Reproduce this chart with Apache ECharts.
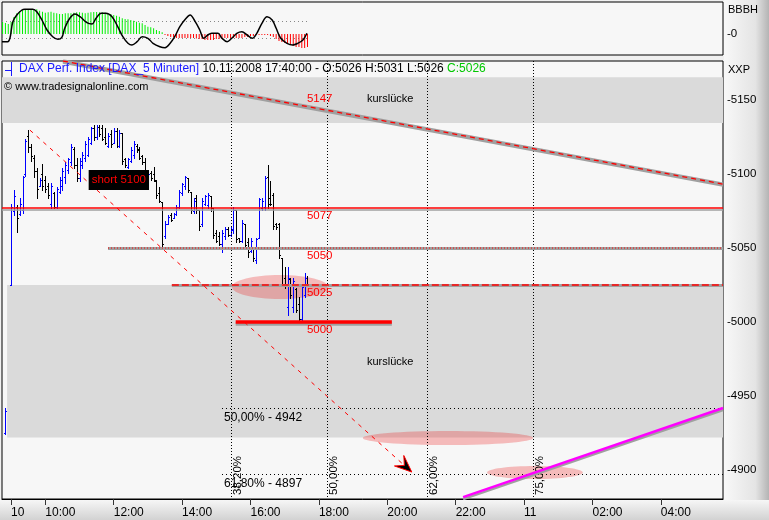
<!DOCTYPE html>
<html><head><meta charset="utf-8">
<script src="https://cdn.jsdelivr.net/npm/echarts@6/dist/echarts.min.js"></script>
<style>html,body{margin:0;padding:0;background:#f0f0f0}#c{width:769px;height:520px}</style>
</head><body><div id="c"></div>
<script>
// time axis in minutes after 10.11.2008 00:00
const X_MIN = 524, X_MAX = 1789;
const Y_MIN = 4880.4, Y_MAX = 5176.4;
const IND_MIN = -21, IND_MAX = 32;

const xTickValues = [540, 600, 720, 840, 960, 1080, 1200, 1320, 1440, 1560, 1680];
const xTickLabels = ['10', '10:00', '12:00', '14:00', '16:00', '18:00', '20:00', '22:00', '11', '02:00', '04:00'];
const yTickValues = [4900, 4950, 5000, 5050, 5100, 5150];

// 5-minute OHLC bars [open, high, low, close], first bar 09:00, last 17:40
const barStart = 540, barStep = 5;
const prevBar = [530, 4925, 4942, 4924, 4940];
const ohlc = [
[5025,5080,5025,5078],[5075,5089,5072,5085],[5078,5079,5061,5070],[5073,5084,5072,5080],[5076,5099,5074,5098],
[5100,5124,5099,5122],[5126,5130,5115,5118],[5118,5120,5109,5112],[5111,5113,5098,5102],[5102,5104,5084,5090],
[5092,5097,5092,5096],[5100,5107,5089,5092],[5096,5099,5088,5090],[5092,5094,5084,5086],[5080,5094,5077,5092],
[5087,5088,5077,5078],[5078,5091,5077,5090],[5088,5098,5087,5096],[5092,5104,5089,5102],[5098,5108,5094,5106],
[5103,5111,5101,5110],[5108,5120,5106,5118],[5117,5118,5104,5106],[5106,5111,5095,5097],[5097,5111,5095,5109],
[5106,5115,5104,5113],[5111,5122,5109,5120],[5113,5125,5112,5124],[5121,5132,5120,5131],[5131,5133,5123,5125],
[5125,5133,5124,5132],[5132,5133,5126,5127],[5131,5133,5123,5124],[5125,5131,5120,5121],[5119,5128,5118,5126],
[5127,5130,5118,5120],[5121,5131,5121,5129],[5129,5131,5118,5119],[5119,5130,5118,5128],[5128,5128,5107,5109],
[5110,5111,5105,5106],[5105,5111,5104,5110],[5109,5118,5108,5116],[5113,5122,5111,5120],[5119,5120,5115,5116],
[5117,5118,5110,5111],[5112,5113,5107,5108],[5108,5111,5097,5098],[5097,5101,5096,5100],[5101,5102,5096,5097],
[5100,5105,5095,5096],[5095,5096,5084,5086],[5087,5091,5081,5082],[5081,5081,5051,5053],[5058,5068,5057,5066],
[5066,5072,5066,5071],[5072,5074,5068,5069],[5070,5074,5070,5073],[5073,5079,5072,5078],[5078,5089,5077,5088],
[5087,5094,5086,5093],[5092,5099,5090,5098],[5097,5097,5088,5089],[5088,5088,5074,5076],[5075,5084,5074,5082],
[5084,5086,5074,5076],[5076,5076,5062,5065],[5066,5084,5065,5082],[5080,5086,5079,5085],[5079,5087,5077,5086],
[5085,5085,5075,5077],[5077,5077,5057,5059],[5060,5062,5054,5055],[5058,5061,5052,5053],[5053,5062,5047,5060],
[5058,5064,5056,5063],[5063,5064,5058,5059],[5059,5064,5058,5063],[5062,5078,5060,5076],[5076,5076,5054,5056],
[5057,5057,5054,5055],[5055,5069,5054,5067],[5066,5066,5050,5052],[5054,5057,5044,5047],[5048,5057,5047,5055],
[5051,5051,5041,5043],[5042,5057,5040,5056],[5057,5084,5057,5083],[5077,5084,5076,5082],[5078,5099,5076,5097],
[5098,5106,5077,5080],[5084,5095,5079,5080],[5086,5087,5063,5065],[5066,5067,5063,5064],[5066,5067,5043,5045],
[5043,5043,5025,5026],[5030,5037,5023,5025],[5010,5037,5005,5030],[5029,5030,5016,5018],[5010,5030,5007,5028],
[5022,5023,5007,5008],[5012,5017,5000,5002],[5002,5025,5001,5024],[5018,5033,5017,5030],[5026,5031,5026,5026]
];

// indicator panel
const histStart = 525, histStep = 5;
const histValues = [12,11,10,12,17,20.7,23,24,24.7,25,25,25,24.7,23.3,22.3,21.3,21.7,22.3,21.3,20.7,20,20,20.7,20.7,20.7,
21.3,21.7,21.7,21.3,20.7,21.3,21.7,22,22,21.7,21.7,21.3,20.7,20,19,18.3,17.3,15.7,15,14.7,14,13.3,12.3,11.3,10.7,9,7.3,6.7,
5.7,4,3,1.7,-1,-2,-3,-3,-4,-4,-4,-4,-4,-4,-4,-4.5,-5,-5,-6,-6,-6,-6,-5,-5,-5,-4,-4,-4,-4,-4,-4,-4,-3,-3,-2,-2,-1,-1,-1,
-1,-1,-2,-3,-5,-7,-8,-9,-10,-11,-12,-13,-13,-14,-14,-13];
const oscLine = [[524,-7.7],[534,-7.7],[538,-4],[543,12.3],[550,19],[559,24],[564,24.7],[578,24.7],[585,22.3],[594,14],
[603,4],[613,-2.7],[622,-5.3],[629,-3.3],[634,5.7],[643,15.7],[652,20],[661,17.3],[673,11.3],[682,10],[689,15.7],[698,20.7],
[706,20.7],[717,17.3],[727,7.3],[736,-2.7],[745,-9.3],[752,-11],[761,-7.7],[770,-2.7],[780,-4.3],[789,-9.3],[801,-12.7],
[810,-13.7],[819,-9.3],[827,-2.7],[836,7.3],[847,15.7],[854,19],[863,12.3],[871,4],[878,-4.3],[885,-1],[892,0.7],[903,0.7],
[910,-4.3],[919,-7.7],[927,-4.3],[936,0.7],[945,2.3],[954,-1],[963,-4.3],[971,0.7],[980,10.7],[989,17.3],[998,14],
[1005,5.7],[1013,-4.3],[1024,-9.3],[1034,-11],[1043,-9.3],[1052,-6],[1059,0.7]];
const oscLevels = [13.3, -4.3];
const oscLevelEnd = 1060;

// drawings
const gapBands = [[524, 5134.5, 5165.5], [533, 4922, 5025]];
const gapLabels = [[1205, 5150.7], [1205, 4973]];
const gapLabelText = 'kurslücke';
const trendDown = [[631, 5176.4], [1789, 5093.2]];
const trendUp = [[1333, 4881.7], [1789, 4941.9]];
const arrowLine = [573, 5129.7, 1243, 4898.6];
const level5077 = [[524, 5077], [1789, 5077]];
const level5050 = [[710, 5050], [1789, 5050]];
const level5025 = [[822, 5025], [1789, 5025]];
const level5000 = [[934, 5000], [1208, 5000]];
const levelLabels = [[1059, 5147], [1059, 5077], [1059, 5050], [1059, 5025], [1059, 5000]];
const levelLabelText = ['5147', '5077', '5050', '5025', '5000'];
const fibTimes = [925, 1094, 1270, 1456];
const fibTimeLabels = ['38,20%', '50,00%', '62,00%', '75,00%'];
const fibLevels = [4942, 4897];
const fibLevelLabels = ['50,00% - 4942', '61,80% - 4897'];
const fibLevelStart = 910;
const ellipses = [[927.5, 1096, 5015.5, 5031.8], [1157, 1456, 4916.9, 4926.4], [1375, 1543, 4893.9, 4902.7]];
const shortNote = [729, 5096];
const shortNoteText = 'short 5100';

const FONT = '"Liberation Sans", Arial, sans-serif';
const chart = echarts.init(document.getElementById('c'), null, {renderer: 'canvas'});

const M = {xAxisIndex: 1, yAxisIndex: 1, silent: true};
function lineS(data, style, z) {
  return Object.assign({type: 'line', data, symbol: 'none', z, lineStyle: style, clip: true}, M);
}
const GRAY = '#a0a0a0';

const barData = [prevBar].concat(ohlc.map((r, i) => [barStart + i * barStep, r[0], r[1], r[2], r[3]]));

const option = {
  animation: false,
  backgroundColor: '#f0f0f0',
  textStyle: {fontFamily: FONT},
  grid: [
    {left: 2, top: 2, width: 721, height: 53, show: true, backgroundColor: '#f7f7f7', borderColor: '#000', borderWidth: 1},
    {left: 2, top: 61, width: 721, height: 438, show: true, backgroundColor: '#f7f7f7', borderColor: '#000', borderWidth: 1}
  ],
  xAxis: [
    {gridIndex: 0, type: 'value', min: X_MIN, max: X_MAX, show: false},
    {gridIndex: 1, type: 'value', min: X_MIN, max: X_MAX, splitLine: {show: false},
     axisLine: {show: true, lineStyle: {color: '#000'}},
     axisTick: {show: true, customValues: xTickValues, length: 6, lineStyle: {color: '#333'}},
     axisLabel: {customValues: xTickValues, formatter: v => xTickLabels[xTickValues.indexOf(v)],
                 align: 'left', margin: 8, color: '#000', fontSize: 12, fontFamily: FONT}}
  ],
  yAxis: [
    {gridIndex: 0, type: 'value', min: IND_MIN, max: IND_MAX, position: 'right', splitLine: {show: false},
     axisLine: {show: false}, axisTick: {show: false},
     axisLabel: {customValues: [0], formatter: () => '-0', margin: 4, color: '#000', fontSize: 11.5, fontFamily: FONT}},
    {gridIndex: 1, type: 'value', min: Y_MIN, max: Y_MAX, position: 'right', splitLine: {show: false},
     axisLine: {show: false}, axisTick: {show: false},
     axisLabel: {customValues: yTickValues, formatter: v => '-' + v, margin: 4, color: '#000', fontSize: 11.5, fontFamily: FONT}}
  ],
  graphic: [
    {type: 'rect', left: 724, top: 0, z: -10, silent: true, shape: {width: 45, height: 520},
     style: {fill: new echarts.graphic.LinearGradient(0, 0, 1, 0, [{offset: 0, color: '#f8f8f8'}, {offset: 0.7, color: '#e4e4e4'}, {offset: 1, color: '#b4b4b4'}])}},
    {type: 'rect', left: 0, top: 500, z: -9, silent: true, shape: {width: 769, height: 20},
     style: {fill: new echarts.graphic.LinearGradient(0, 0, 0, 1, [{offset: 0, color: '#f6f6f6'}, {offset: 1, color: '#d2d2d2'}])}},
    {type: 'text', left: 19, top: 63, z: 10, silent: true,
     style: {text: '{b|DAX Perf. Index [DAX_5 Minuten]} {k|10.11.2008 17:40:00 - O:5026 H:5031 L:5026} {g|C:5026}',
             font: '12px ' + FONT,
             rich: {b: {fill: '#1a1aff', font: '12px ' + FONT}, k: {fill: '#000', font: '12px ' + FONT}, g: {fill: '#00c800', font: '12px ' + FONT}}}},
    {type: 'polyline', z: 10, silent: true, shape: {points: [[5, 70.5], [11.5, 70.5]]}, style: {stroke: '#1a1aff', lineWidth: 1}},
    {type: 'polyline', z: 10, silent: true, shape: {points: [[11.5, 62], [11.5, 76]]}, style: {stroke: '#1a1aff', lineWidth: 1}},
    {type: 'text', left: 4, top: 81, z: 10, silent: true, style: {text: '© www.tradesignalonline.com', font: '11px ' + FONT, fill: '#000'}},
    {type: 'text', left: 728, top: 64, z: 10, silent: true, style: {text: 'XXP', font: '11px ' + FONT, fill: '#000'}},
    {type: 'text', left: 728, top: 4, z: 10, silent: true, style: {text: 'BBBH', font: '11px ' + FONT, fill: '#000'}}
  ],
  series: [
    // indicator
    {type: 'bar', xAxisIndex: 0, yAxisIndex: 0, barWidth: 1, silent: true, z: 2,
     data: histValues.map((v, i) => ({value: [histStart + i * histStep, v], itemStyle: {color: v >= 0 ? '#00f000' : '#ff0000'}}))},
    {type: 'custom', xAxisIndex: 0, yAxisIndex: 0, silent: true, z: 1,
     data: oscLevels.map(v => [X_MIN, v]),
     renderItem: (p, api) => {
       const a = api.coord([api.value(0), api.value(1)]), b = api.coord([oscLevelEnd, api.value(1)]);
       const y = Math.round(a[1]) + 0.5;
       return {type: 'line', shape: {x1: a[0], y1: y, x2: b[0], y2: y}, style: {stroke: '#888', lineWidth: 1, lineDash: [1, 3]}};
     }},
    {type: 'line', xAxisIndex: 0, yAxisIndex: 0, data: oscLine, smooth: 0.35, symbol: 'none', silent: true, z: 3,
     lineStyle: {color: '#000', width: 1.5}},

    // gap bands
    Object.assign({type: 'custom', z: 1, clip: true, data: gapBands,
      renderItem: (p, api) => {
        const a = api.coord([api.value(0), api.value(2)]), b = api.coord([X_MAX, api.value(1)]);
        return {type: 'rect', shape: {x: a[0], y: a[1], width: b[0] - a[0], height: b[1] - a[1]}, style: {fill: '#dadada'}};
      }}, M),
    // ellipses
    Object.assign({type: 'custom', z: 2, clip: true, data: ellipses,
      renderItem: (p, api) => {
        const a = api.coord([api.value(0), api.value(3)]), b = api.coord([api.value(1), api.value(2)]);
        return {type: 'ellipse', shape: {cx: (a[0] + b[0]) / 2, cy: (a[1] + b[1]) / 2, rx: (b[0] - a[0]) / 2, ry: (b[1] - a[1]) / 2},
                style: {fill: 'rgba(238,30,30,0.28)'}};
      }}, M),
    // OHLC bars
    Object.assign({type: 'custom', z: 3, data: barData, encode: {x: 0, y: [2, 3]},
      renderItem: (p, api) => {
        const t = api.value(0), o = api.value(1), h = api.value(2), l = api.value(3), c = api.value(4);
        const ph = api.coord([t, h]), pl = api.coord([t, l]), po = api.coord([t, o]), pc = api.coord([t, c]);
        const col = c > o ? '#0000ff' : '#000000';
        const x = Math.round(ph[0]) + 0.5;
        const yo = Math.round(po[1]) + 0.5, yc = Math.round(pc[1]) + 0.5;
        return {type: 'group', children: [
          {type: 'line', shape: {x1: x, y1: Math.round(ph[1]), x2: x, y2: Math.round(pl[1]) + 1}, style: {stroke: col, lineWidth: 1}},
          {type: 'line', shape: {x1: x - 1.5, y1: yo, x2: x, y2: yo}, style: {stroke: col, lineWidth: 1}},
          {type: 'line', shape: {x1: x, y1: yc, x2: x + 1.5, y2: yc}, style: {stroke: col, lineWidth: 1}}
        ]};
      }}, M),
    // fib time lines
    Object.assign({type: 'custom', z: 4, data: fibTimes.map(t => [t, fibLevels[1]]),
      renderItem: (p, api) => {
        const t = api.value(0);
        const a = api.coord([t, Y_MAX]), b = api.coord([t, Y_MIN]), m = api.coord([t, api.value(1)]);
        const x = Math.round(a[0]) + 0.5;
        return {type: 'group', children: [
          {type: 'line', shape: {x1: x, y1: a[1], x2: x, y2: b[1]}, style: {stroke: '#000', lineWidth: 1, lineDash: [1, 2]}},
          {type: 'text', x: x + 6, y: m[1] + 1, rotation: Math.PI / 2,
           style: {text: fibTimeLabels[p.dataIndex], fill: '#000', font: '11.5px ' + FONT, align: 'center', verticalAlign: 'middle', textAlign: 'center', textVerticalAlign: 'middle'}}
        ]};
      }}, M),
    // fib price lines
    Object.assign({type: 'custom', z: 4, data: fibLevels.map(v => [fibLevelStart, v]),
      renderItem: (p, api) => {
        const a = api.coord([api.value(0), api.value(1)]), b = api.coord([X_MAX, api.value(1)]);
        const y = Math.round(a[1]) + 0.5;
        return {type: 'group', children: [
          {type: 'line', shape: {x1: a[0], y1: y, x2: b[0], y2: y}, style: {stroke: '#000', lineWidth: 1, lineDash: [1, 3]}},
          {type: 'text', x: a[0] + 2, y: y + 9,
           style: {text: fibLevelLabels[p.dataIndex], fill: '#000', font: '12px ' + FONT, align: 'left', verticalAlign: 'middle', textAlign: 'left', textVerticalAlign: 'middle'}}
        ]};
      }}, M),

    // trend lines and levels
    lineS(trendDown, {color: GRAY, width: 3.5, shadowColor: GRAY, shadowOffsetY: 1, shadowBlur: 0}, 5),
    lineS(trendDown, {color: '#ff0000', width: 1.3, type: [5, 4]}, 6),
    lineS(level5077, {color: '#ff0000', width: 1.5, shadowColor: GRAY, shadowOffsetY: 2, shadowBlur: 0}, 5),
    lineS(level5050, {color: GRAY, width: 2, shadowColor: GRAY, shadowOffsetY: 1, shadowBlur: 0}, 5),
    lineS(level5050, {color: '#ff0000', width: 1, type: [1, 2]}, 6),
    lineS(level5025, {color: GRAY, width: 2, shadowColor: GRAY, shadowOffsetY: 1, shadowBlur: 0}, 5),
    lineS(level5025, {color: '#ff0000', width: 1.5, type: [7, 3]}, 6),
    lineS(level5000, {color: '#ff0000', width: 3.5, shadowColor: GRAY, shadowOffsetY: 2, shadowBlur: 0}, 5),
    lineS(trendUp, {color: '#ff00ff', width: 2.5, shadowColor: GRAY, shadowOffsetY: 2, shadowBlur: 0}, 5),

    // dashed arrow
    Object.assign({type: 'custom', z: 6, data: [arrowLine],
      renderItem: (p, api) => {
        const a = api.coord([api.value(0), api.value(1)]), b = api.coord([api.value(2), api.value(3)]);
        const dx = b[0] - a[0], dy = b[1] - a[1], len = Math.hypot(dx, dy);
        const ux = dx / len, uy = dy / len, nx = -uy, ny = ux;
        const bx = b[0] - 17 * ux, by = b[1] - 17 * uy;
        const kx = b[0] - 10 * ux, ky = b[1] - 10 * uy;
        return {type: 'group', children: [
          {type: 'line', shape: {x1: a[0], y1: a[1], x2: kx, y2: ky}, style: {stroke: '#ff0000', lineWidth: 1, lineDash: [4, 5]}},
          {type: 'polygon', shape: {points: [[b[0], b[1]], [bx + 7 * nx, by + 7 * ny], [kx, ky], [bx - 7 * nx, by - 7 * ny]]},
           style: {fill: '#000', stroke: '#ff0000', lineWidth: 1}}
        ]};
      }}, M),

    // level labels
    Object.assign({type: 'custom', z: 7, data: levelLabels,
      renderItem: (p, api) => {
        const a = api.coord([api.value(0), api.value(1)]);
        return {type: 'text', x: a[0], y: a[1] + (p.dataIndex === 0 ? -6 : 8),
                style: {text: levelLabelText[p.dataIndex], fill: '#ff0000', font: '11.5px ' + FONT, align: 'left', verticalAlign: 'middle', textAlign: 'left', textVerticalAlign: 'middle'}};
      }}, M),
    // gap labels
    Object.assign({type: 'custom', z: 7, data: gapLabels,
      renderItem: (p, api) => {
        const a = api.coord([api.value(0), api.value(1)]);
        return {type: 'text', x: a[0], y: a[1],
                style: {text: gapLabelText, fill: '#000', font: '11px ' + FONT, align: 'center', verticalAlign: 'middle', textAlign: 'center', textVerticalAlign: 'middle'}};
      }}, M),
    // short note
    Object.assign({type: 'custom', z: 7, data: [shortNote],
      renderItem: (p, api) => {
        const a = api.coord([api.value(0), api.value(1)]);
        return {type: 'text', x: a[0], y: a[1],
                style: {text: shortNoteText, fill: '#ff0000', font: '11.5px ' + FONT, align: 'center', verticalAlign: 'middle', textAlign: 'center', textVerticalAlign: 'middle',
                        backgroundColor: '#000', padding: [4, 3]}};
      }}, M)
  ]
};
chart.setOption(option);
</script></body></html>
